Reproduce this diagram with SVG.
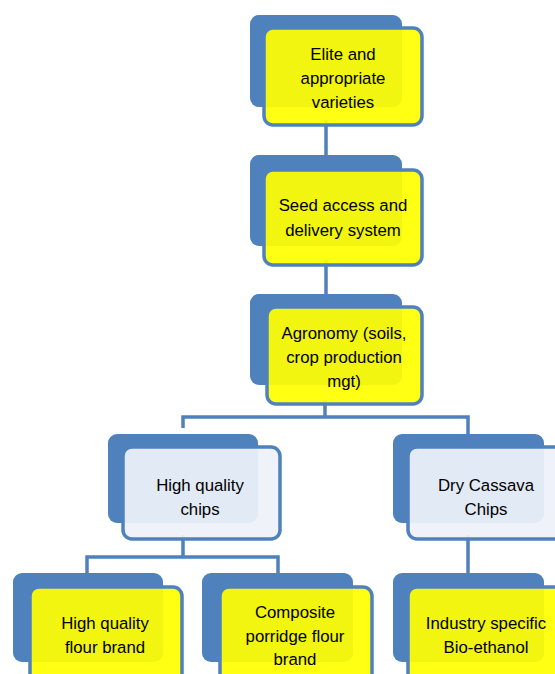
<svg xmlns="http://www.w3.org/2000/svg" width="555" height="674" viewBox="0 0 555 674">
<style>
.back{fill:#4f81bd;}
.fy{fill:#ffff00;fill-opacity:0.92;stroke:#4f81bd;stroke-width:3.5;}
.fl{fill:#eef2f9;fill-opacity:0.93;stroke:#4f81bd;stroke-width:3.5;}
.con{fill:none;stroke:#4f81bd;stroke-width:3.5;}
text{font-family:"Liberation Sans",Arial,sans-serif;font-size:16.8px;fill:#000;text-anchor:middle;}
</style>
<rect width="555" height="674" fill="#fff"/>
<g id="connectors">
<path class="con" d="M326 120 V160"/>
<path class="con" d="M326 260 V300"/>
<path class="con" d="M325 400 V417 M183 428 V417 H468 V434"/>
<path class="con" d="M183 535 V557 M87 573 V557 H278 V573"/>
<path class="con" d="M468 535 V573"/>
</g>
<g id="n1">
<rect class="back" x="250" y="15" width="152" height="92" rx="9"/>
<rect class="fy" x="264" y="28" width="158" height="97" rx="9"/>
<text x="343" y="60">Elite and</text>
<text x="343" y="84">appropriate</text>
<text x="343" y="108">varieties</text>
</g>
<g id="n2">
<rect class="back" x="250" y="155" width="152" height="91" rx="9"/>
<rect class="fy" x="264" y="170" width="158" height="95" rx="9"/>
<text x="343" y="211">Seed access and</text>
<text x="343" y="236">delivery system</text>
</g>
<g id="n3">
<rect class="back" x="250" y="294" width="152" height="91" rx="9"/>
<rect class="fy" x="267" y="307" width="155" height="97" rx="9"/>
<text x="344" y="339">Agronomy (soils,</text>
<text x="344" y="363">crop production</text>
<text x="344" y="387">mgt)</text>
</g>
<g id="n4">
<rect class="back" x="108" y="434" width="150" height="89" rx="9"/>
<rect class="fl" x="123" y="447" width="157" height="92" rx="9"/>
<text x="200" y="491">High quality</text>
<text x="200" y="515">chips</text>
</g>
<g id="n5">
<rect class="back" x="393" y="434" width="151" height="89" rx="9"/>
<rect class="fl" x="408" y="447" width="157" height="92" rx="9"/>
<text x="486" y="491">Dry Cassava</text>
<text x="486" y="515">Chips</text>
</g>
<g id="n6">
<rect class="back" x="13" y="573" width="150" height="89" rx="9"/>
<rect class="fy" x="30" y="587" width="152" height="100" rx="9"/>
<text x="105" y="629">High quality</text>
<text x="105" y="653">flour  brand</text>
</g>
<g id="n7">
<rect class="back" x="202" y="573" width="151" height="89" rx="9"/>
<rect class="fy" x="220" y="587" width="152" height="100" rx="9"/>
<text x="295" y="618">Composite</text>
<text x="295" y="642">porridge flour</text>
<text x="295" y="665">brand</text>
</g>
<g id="n8">
<rect class="back" x="393" y="573" width="151" height="89" rx="9"/>
<rect class="fy" x="408" y="587" width="157" height="100" rx="9"/>
<text x="486" y="629">Industry specific</text>
<text x="486" y="653">Bio-ethanol</text>
</g>
</svg>
